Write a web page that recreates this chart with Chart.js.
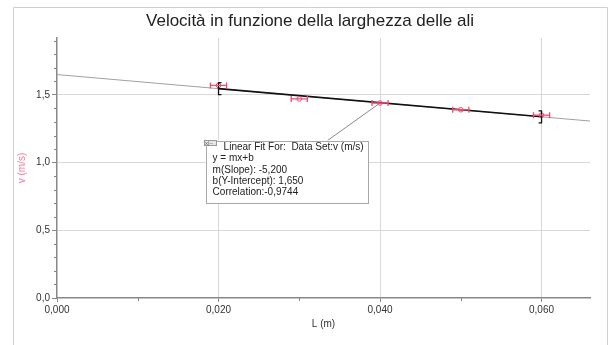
<!DOCTYPE html>
<html>
<head>
<meta charset="utf-8">
<script src="https://cdn.jsdelivr.net/npm/chart.js@4/dist/chart.umd.min.js"></script>
<style>
  html, body { margin: 0; padding: 0; background: #fff; }
</style>
</head>
<body>
<canvas id="speedChart" width="609" height="345"></canvas>
<script>
// Wing width vs speed (Logger Pro style linear fit)
const chartTitle = "Velocità in funzione della larghezza delle ali";
const lengths = [0.020, 0.030, 0.040, 0.050, 0.060];
const speeds = [1.57, 1.47, 1.44, 1.39, 1.35];
const lengthErr = [0.001, 0.001, 0.001, 0.001, 0.001];

const xTicks = [0, 0.02, 0.04, 0.06];
const xMinor = [0.01, 0.03, 0.05];
const yTicks = [0, 0.5, 1.0, 1.5];
const yMinor = [0.1, 0.2, 0.3, 0.4, 0.6, 0.7, 0.8, 0.9, 1.1, 1.2, 1.3, 1.4, 1.6, 1.7, 1.8, 1.9];

const fitSlope = -5.2;
const fitIntercept = 1.65;
const fitRange = [0.020, 0.060];
const axisRange = [0, 0.066];
const fitLines = [
  "Linear Fit For:  Data Set:v (m/s)",
  "y = mx+b",
  "m(Slope): -5,200",
  "b(Y-Intercept): 1,650",
  "Correlation:-0,9744",
];

const PINK = "#ee4a72";
const FONT = "'Liberation Sans', Arial, sans-serif";

// annotation box placement, in data units
const note = { left: 0.0184, right: 0.0385, top: 1.163, bottom: 0.704, lineX: 0.0335, target: 2 };

const fitY = (x) => fitIntercept + fitSlope * x;

const decorations = {
  id: "decorations",
  beforeDraw(chart) {
    const ctx = chart.ctx;
    ctx.save();
    // frame of the screenshot
    ctx.strokeStyle = "#cfcfcf";
    ctx.lineWidth = 1;
    ctx.beginPath();
    ctx.moveTo(13.5, 345);
    ctx.lineTo(13.5, 7.5);
    ctx.lineTo(607.5, 7.5);
    ctx.lineTo(607.5, 345);
    ctx.stroke();
    // title
    ctx.fillStyle = "#222";
    ctx.font = "17px " + FONT;
    ctx.textAlign = "center";
    ctx.textBaseline = "middle";
    ctx.fillText(chartTitle, 310, 21);
    ctx.restore();
  },
  afterDraw(chart) {
    const { ctx, chartArea } = chart;
    const xs = chart.scales.x, ys = chart.scales.y;
    ctx.save();

    // minor ticks
    ctx.strokeStyle = "#888";
    ctx.lineWidth = 1;
    ctx.beginPath();
    yMinor.forEach((v) => {
      const py = Math.round(ys.getPixelForValue(v)) + 0.5;
      ctx.moveTo(chartArea.left - 3, py);
      ctx.lineTo(chartArea.left, py);
    });
    xMinor.forEach((v) => {
      const px = Math.round(xs.getPixelForValue(v)) + 0.5;
      ctx.moveTo(px, chartArea.bottom);
      ctx.lineTo(px, chartArea.bottom + 3);
    });
    ctx.stroke();

    // fit brackets
    ctx.strokeStyle = "#111";
    ctx.lineWidth = 1.3;
    fitRange.forEach((v, i) => {
      const px = xs.getPixelForValue(v);
      const py = ys.getPixelForValue(fitY(v));
      const dir = i === 0 ? 1 : -1;
      ctx.beginPath();
      ctx.moveTo(px + 3 * dir, py - 6);
      ctx.lineTo(px, py - 6);
      ctx.lineTo(px, py + 6);
      ctx.lineTo(px + 3 * dir, py + 6);
      ctx.stroke();
    });

    // horizontal error bars
    ctx.strokeStyle = PINK;
    ctx.lineWidth = 1.3;
    lengths.forEach((x, i) => {
      const py = ys.getPixelForValue(speeds[i]);
      const x0 = xs.getPixelForValue(x - lengthErr[i]);
      const x1 = xs.getPixelForValue(x + lengthErr[i]);
      ctx.beginPath();
      ctx.moveTo(x0, py);
      ctx.lineTo(x1, py);
      ctx.moveTo(x0, py - 3);
      ctx.lineTo(x0, py + 3);
      ctx.moveTo(x1, py - 3);
      ctx.lineTo(x1, py + 3);
      ctx.stroke();
    });

    // annotation connector + box
    const bl = xs.getPixelForValue(note.left), br = xs.getPixelForValue(note.right);
    const bt = ys.getPixelForValue(note.top), bb = ys.getPixelForValue(note.bottom);
    ctx.strokeStyle = "#888";
    ctx.lineWidth = 1;
    ctx.beginPath();
    ctx.moveTo(xs.getPixelForValue(note.lineX), bt);
    ctx.lineTo(xs.getPixelForValue(lengths[note.target]), ys.getPixelForValue(speeds[note.target]));
    ctx.stroke();

    ctx.fillStyle = "#fff";
    ctx.fillRect(bl, bt, br - bl, bb - bt);
    ctx.strokeStyle = "#a8a8a8";
    ctx.strokeRect(Math.round(bl) + 0.5, Math.round(bt) + 0.5, Math.round(br - bl), Math.round(bb - bt));

    // little close/minimise icon
    ctx.fillStyle = "#e6e6e6";
    ctx.fillRect(Math.round(bl) - 2, Math.round(bt) - 1, 12, 5);
    ctx.strokeStyle = "#999";
    ctx.strokeRect(Math.round(bl) - 1.5, Math.round(bt) - 0.5, 12, 5);
    ctx.fillStyle = "#666";
    ctx.font = "6px " + FONT;
    ctx.textAlign = "left";
    ctx.textBaseline = "middle";
    ctx.fillText("x|–", Math.round(bl) - 1, Math.round(bt) + 2);

    ctx.fillStyle = "#222";
    ctx.font = "10px " + FONT;
    fitLines.forEach((t, i) => {
      const tx = i === 0 ? bl + 18 : bl + 7;
      ctx.fillText(t, tx, bt + 6.5 + i * 11.4);
    });
    ctx.restore();
  },
};

const fmtComma = (v, d) => v.toFixed(d).replace(".", ",");

new Chart(document.getElementById("speedChart"), {
  type: "scatter",
  data: {
    datasets: [
      {
        label: "v (m/s)",
        data: lengths.map((x, i) => ({ x: x, y: speeds[i] })),
        borderColor: PINK,
        backgroundColor: "rgba(0,0,0,0)",
        pointRadius: 2.3,
        borderWidth: 1,
      },
      {
        label: "fit",
        data: fitRange.map((x) => ({ x: x, y: fitY(x) })),
        showLine: true,
        borderColor: "#111",
        borderWidth: 1.6,
        pointRadius: 0,
      },
      {
        label: "fit extended",
        data: axisRange.map((x) => ({ x: x, y: fitY(x) })),
        showLine: true,
        borderColor: "#a0a0a0",
        borderWidth: 1,
        pointRadius: 0,
      },
    ],
  },
  options: {
    responsive: false,
    animation: false,
    layout: { padding: { left: 14, right: 19, top: 38, bottom: 8 } },
    plugins: {
      legend: { display: false },
      tooltip: { enabled: false },
    },
    scales: {
      x: {
        type: "linear",
        min: axisRange[0],
        max: axisRange[1],
        afterBuildTicks: (s) => { s.ticks = xTicks.map((v) => ({ value: v })); },
        afterFit: (s) => { s.height = 39; },
        ticks: {
          callback: (v) => fmtComma(v, 3),
          color: "#333",
          font: { family: FONT, size: 10 },
          padding: 2,
          maxRotation: 0,
        },
        grid: {
          color: (c) => (c.tick && c.tick.value === 0 ? "rgba(0,0,0,0)" : "#d8d8d8"),
          tickColor: "#888",
          tickLength: 4,
        },
        border: { color: "#888", width: 1.5 },
        title: {
          display: true,
          text: "L (m)",
          color: "#333",
          font: { family: FONT, size: 10 },
          padding: { top: 0, bottom: 7 },
        },
      },
      y: {
        type: "linear",
        min: 0,
        max: 1.92,
        afterBuildTicks: (s) => { s.ticks = yTicks.map((v) => ({ value: v })); },
        afterFit: (s) => { s.width = 43; },
        ticks: {
          callback: (v) => fmtComma(v, 1),
          color: "#333",
          font: { family: FONT, size: 10 },
          padding: 2,
        },
        grid: {
          color: (c) => (c.tick && c.tick.value === 0 ? "rgba(0,0,0,0)" : "#d8d8d8"),
          tickColor: "#888",
          tickLength: 5,
        },
        border: { color: "#888", width: 1.5 },
        title: {
          display: true,
          text: "v (m/s)",
          color: "#f27a96",
          font: { family: FONT, size: 10 },
          padding: { top: 2, bottom: 0 },
        },
      },
    },
  },
  plugins: [decorations],
});
</script>
</body>
</html>
